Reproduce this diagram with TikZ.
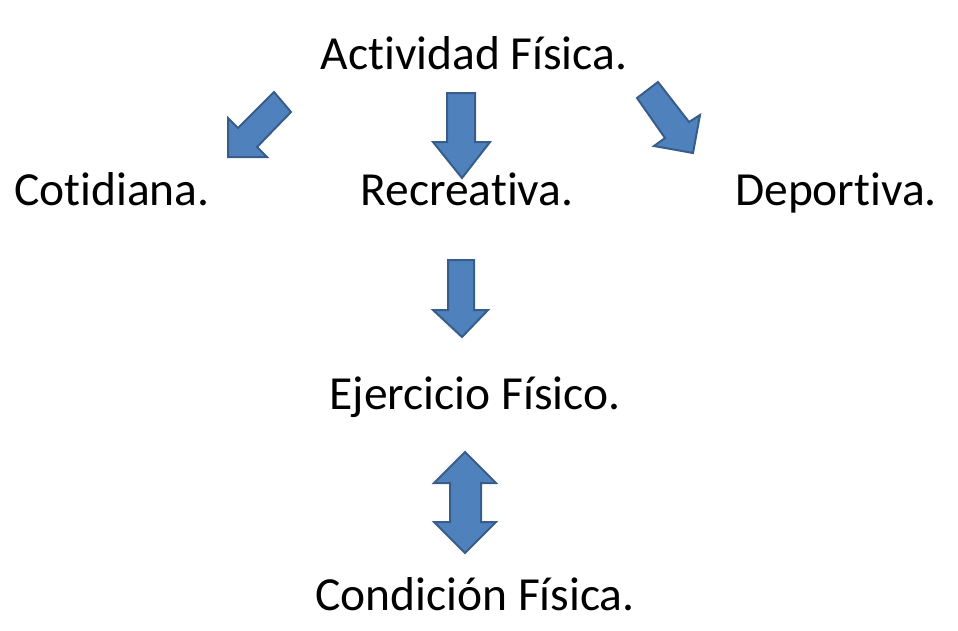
\documentclass[tikz,border=0pt]{standalone}
\usepackage{fontspec}
\setmainfont[RawFeature={-liga;-clig;-calt;-dlig}]{Carlito}
\definecolor{arrowfill}{HTML}{4F81BD}
\definecolor{arrowline}{HTML}{385D8A}
\newcommand{\nlg}{\kern0pt{}}
\tikzset{
  label/.style={anchor=base, inner sep=0pt, font=\fontsize{47.5}{56}\selectfont, text=black},
  blockarrow/.style={fill=arrowfill, draw=arrowline, line width=2pt, line join=miter}
}
\begin{document}
\begin{tikzpicture}[x=1pt, y=-1pt]
\useasboundingbox (0,0) rectangle (958,630);
% texts
\node[label] (actividad) at (474,69) {Act\nlg ividad Física.};
\node[label] (cotidiana) at (112,205) {Cot\nlg idiana.};
\node[label] (recreativa) at (467,205) {Recreat\nlg iva.};
\node[label] (deportiva) at (836,205) {Deport\nlg iva.};
\node[label] (ejercicio) at (475,409) {Ejercicio Físico.};
\node[label] (condicion) at (475,610) {Condición Física.};
% block arrows
% left diagonal
\draw[blockarrow] (274,92) -- (291,112) -- (257,147) -- (267,157) -- (228,157) -- (228,118) -- (238,128) -- cycle;
% middle down
\draw[blockarrow] (447,93) -- (475,93) -- (475,142) -- (490,142) -- (462,178) -- (433,142) -- (447,142) -- cycle;
% right diagonal
\draw[blockarrow] (658,82) -- (689,122) -- (700,115) -- (693,153) -- (654,146) -- (665,138) -- (637,98) -- cycle;
% second down
\draw[blockarrow] (448,260) -- (474,260) -- (474,310) -- (488,310) -- (462,337) -- (433,310) -- (448,310) -- cycle;
% double arrow
\draw[blockarrow] (465,452) -- (496,483) -- (481,483) -- (481,522) -- (496,522) -- (465,553) -- (434,522) -- (450,522) -- (450,483) -- (434,483) -- cycle;
\end{tikzpicture}
\end{document}
